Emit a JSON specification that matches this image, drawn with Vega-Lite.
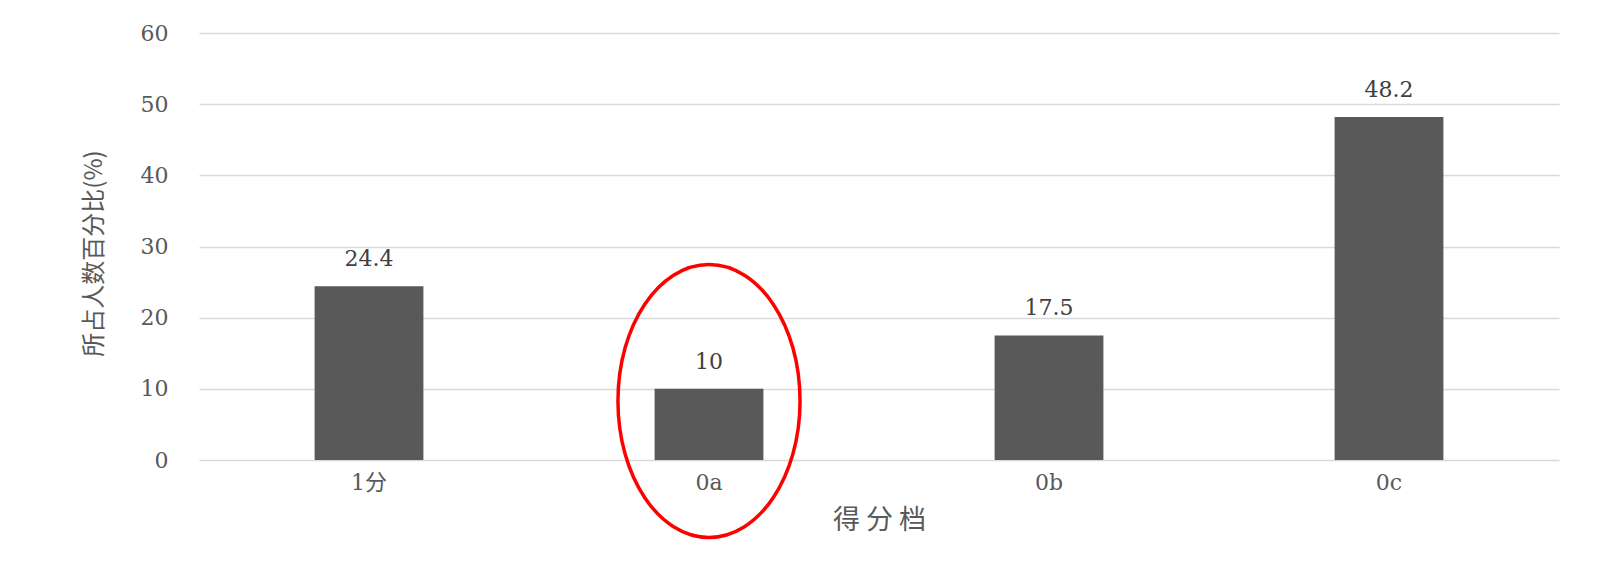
{
  "$schema": "https://vega.github.io/schema/vega-lite/v6.json",
  "width": 1360,
  "height": 427,
  "autosize": {"type": "none"},
  "padding": {"left": 199, "top": 33, "right": 49, "bottom": 113},
  "background": "white",
  "config": {"view": {"stroke": null}},
  "datasets": {
    "bars": [
      {"score": "1分", "value": 24.4},
      {"score": "0a", "value": 10},
      {"score": "0b", "value": 17.5},
      {"score": "0c", "value": 48.2}
    ],
    "highlight": [
      {"score": "0a", "value": 8.3}
    ]
  },
  "layer": [
    {
      "data": {"name": "bars"},
      "mark": {"type": "bar", "color": "#595959"},
      "encoding": {
        "x": {
          "field": "score",
          "type": "nominal",
          "sort": ["1分", "0a", "0b", "0c"],
          "scale": {"paddingInner": 0.68, "paddingOuter": 0.34},
          "title": "得 分 档",
          "axis": {
            "labelAngle": 0,
            "domain": false,
            "ticks": false,
            "grid": false,
            "labelFont": "DejaVu Serif, Noto Sans CJK SC",
            "labelFontSize": 22,
            "labelColor": "#595959",
            "labelPadding": 12,
            "titleFont": "Noto Sans CJK SC",
            "titleFontSize": 27,
            "titleFontWeight": "normal",
            "titleColor": "#595959",
            "titlePadding": 14
          }
        },
        "y": {
          "field": "value",
          "type": "quantitative",
          "scale": {"domain": [0, 60], "nice": false},
          "title": "所占人数百分比(%)",
          "axis": {
            "values": [0, 10, 20, 30, 40, 50, 60],
            "domain": false,
            "ticks": false,
            "grid": true,
            "gridColor": "#d9d9d9",
            "gridWidth": 1.5,
            "labelFont": "DejaVu Serif",
            "labelFontSize": 22,
            "labelColor": "#595959",
            "labelPadding": 31,
            "titleFont": "Noto Sans CJK SC",
            "titleFontSize": 24,
            "titleFontWeight": "normal",
            "titleColor": "#595959",
            "titlePadding": 34,
            "titleY": 220
          }
        }
      }
    },
    {
      "data": {"name": "bars"},
      "mark": {
        "type": "text",
        "baseline": "alphabetic",
        "dy": -20,
        "font": "DejaVu Serif",
        "fontSize": 22,
        "color": "#404040"
      },
      "encoding": {
        "x": {"field": "score", "type": "nominal", "sort": ["1分", "0a", "0b", "0c"]},
        "y": {"field": "value", "type": "quantitative"},
        "text": {"field": "value", "type": "quantitative", "format": ".1~f"}
      }
    },
    {
      "data": {"name": "highlight"},
      "mark": {
        "type": "point",
        "shape": "M -0.667 0 A 0.667 1 0 1 0 0.667 0 A 0.667 1 0 1 0 -0.667 0 Z",
        "size": 74529,
        "filled": false,
        "color": "#ff0000",
        "strokeWidth": 3.5,
        "opacity": 1
      },
      "encoding": {
        "x": {"field": "score", "type": "nominal", "sort": ["1分", "0a", "0b", "0c"]},
        "y": {"field": "value", "type": "quantitative"}
      }
    }
  ]
}
